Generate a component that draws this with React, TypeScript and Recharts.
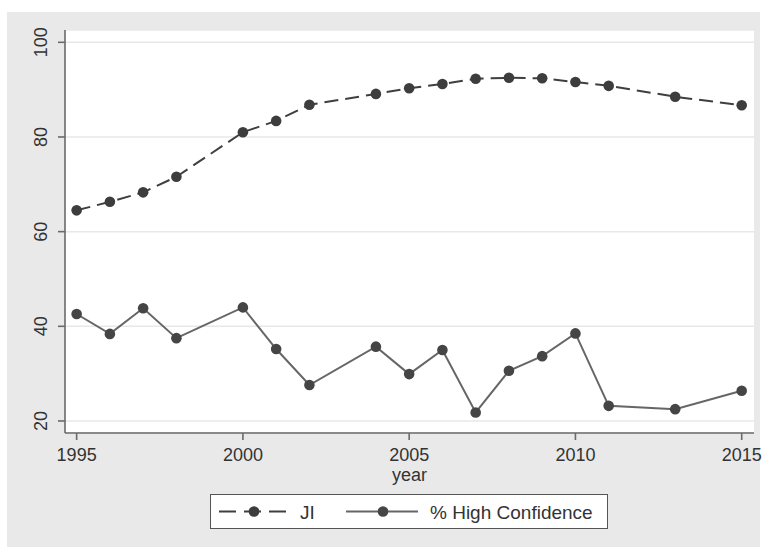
import React from 'react';
import { LineChart, Line, XAxis, YAxis, CartesianGrid } from 'recharts';

const years = [1995, 1996, 1997, 1998, 2000, 2001, 2002, 2004, 2005, 2006, 2007, 2008, 2009, 2010, 2011, 2013, 2015];
const jiValues = [64.5, 66.3, 68.3, 71.6, 81.0, 83.4, 86.8, 89.1, 90.3, 91.2, 92.3, 92.5, 92.4, 91.6, 90.8, 88.5, 86.7];
const hcValues = [42.6, 38.4, 43.8, 37.5, 44.0, 35.2, 27.6, 35.7, 29.9, 35.0, 21.8, 30.6, 33.7, 38.5, 23.2, 22.5, 26.4];
const xTicks = [1995, 2000, 2005, 2010, 2015];
const yTicks = [20, 40, 60, 80, 100];

const data = years.map((year, i) => ({ year, ji: jiValues[i], hc: hcValues[i] }));

const FONT = '"Liberation Sans", Arial, Helvetica, sans-serif';
const TEXT = '#333333';
const AXIS = '#6a6a6a';

const YTick = (props: any) => {
  const { x, y, payload } = props;
  return (
    <text
      x={x}
      y={y}
      transform={`rotate(-90, ${x}, ${y})`}
      textAnchor="middle"
      fill={TEXT}
      fontSize={18}
      fontFamily={FONT}
    >
      {payload.value}
    </text>
  );
};

const Dot = (color: string) => (props: any) => {
  const { cx, cy, index } = props;
  if (cx == null || cy == null) return <g key={index} />;
  return <circle key={index} cx={cx} cy={cy} r={5.3} fill={color} />;
};

export default function App() {
  return (
    <div style={{ position: 'absolute', left: 0, top: 0, width: 764, height: 549, background: '#ffffff', fontFamily: FONT }}>
      <div style={{ position: 'absolute', left: 7, top: 12, width: 753, height: 535, background: '#e9e9ea' }} />
      <div style={{ position: 'absolute', left: 65, top: 30, width: 689, height: 403, background: '#ffffff' }} />
      <div style={{ position: 'absolute', left: 0, top: 0 }}>
        <LineChart width={764} height={549} data={data} margin={{ top: 30, right: 10, left: 8, bottom: 86 }}>
          <CartesianGrid horizontal vertical={false} stroke="#e8e8e8" strokeWidth={1.5} />
          <XAxis
            dataKey="year"
            type="number"
            domain={[1994.65, 2015.37]}
            ticks={xTicks}
            allowDataOverflow
            height={30}
            tickSize={7}
            tickMargin={8.5}
            stroke={AXIS}
            strokeWidth={1.6}
            tick={{ fill: TEXT, fontSize: 18, fontFamily: FONT }}
            tickLine={{ stroke: AXIS, strokeWidth: 1.6 }}
            label={{ value: 'year', position: 'bottom', offset: 5, fill: TEXT, fontSize: 18, fontFamily: FONT }}
          />
          <YAxis
            type="number"
            domain={[17.46, 102.6]}
            ticks={yTicks}
            allowDataOverflow
            width={57}
            tickSize={7}
            tickMargin={11}
            stroke={AXIS}
            strokeWidth={1.6}
            tick={<YTick />}
            tickLine={{ stroke: AXIS, strokeWidth: 1.6 }}
          />
          <Line
            dataKey="ji"
            type="linear"
            stroke="#3f3f3f"
            strokeWidth={2}
            strokeDasharray="14 7"
            dot={Dot('#3d3d3d')}
            isAnimationActive={false}
          />
          <Line
            dataKey="hc"
            type="linear"
            stroke="#666666"
            strokeWidth={2}
            dot={Dot('#454545')}
            isAnimationActive={false}
          />
        </LineChart>
      </div>
      <div
        style={{
          position: 'absolute',
          left: 210,
          top: 494,
          width: 396,
          height: 33,
          background: '#ffffff',
          border: '1.5px solid #555555',
        }}
      >
        <svg width={396} height={33} style={{ display: 'block' }}>
          <line x1={8} y1={16.5} x2={80} y2={16.5} stroke="#3f3f3f" strokeWidth={2} strokeDasharray="17 8" />
          <circle cx={43} cy={16.5} r={5.3} fill="#3d3d3d" />
          <text x={89} y={24} fill={TEXT} fontSize={19} fontFamily={FONT}>JI</text>
          <line x1={135} y1={16.5} x2={207} y2={16.5} stroke="#666666" strokeWidth={2} />
          <circle cx={172} cy={16.5} r={5.3} fill="#454545" />
          <text x={219} y={24} fill={TEXT} fontSize={19} fontFamily={FONT}>% High Confidence</text>
        </svg>
      </div>
    </div>
  );
}
